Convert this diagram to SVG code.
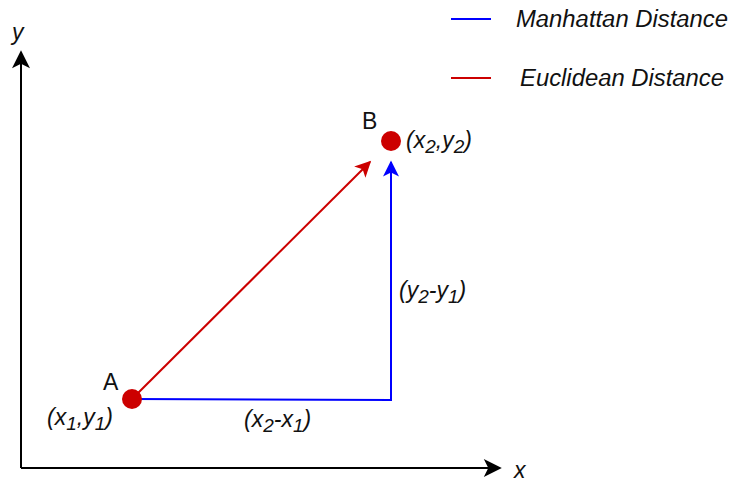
<svg xmlns="http://www.w3.org/2000/svg" width="729" height="485" viewBox="0 0 729 485">
<style>
text{font-family:"Liberation Sans",Arial,sans-serif;font-size:23px;fill:#111}
.i{font-style:italic}
.s{font-size:19px}
</style>
<defs>
<marker id="ak2" viewBox="0 0 10 10" refX="9" refY="5" markerWidth="22" markerHeight="18" markerUnits="userSpaceOnUse" orient="auto"><path d="M0,0 L10,5 L0,10 L2.5,5 Z" fill="#000"/></marker>
<marker id="ar" viewBox="0 0 10 10" refX="9" refY="5" markerWidth="18" markerHeight="16" markerUnits="userSpaceOnUse" orient="auto"><path d="M0,0 L10,5 L0,10 L2.5,5 Z" fill="#CC0000"/></marker>
<marker id="ab" viewBox="0 0 10 10" refX="9" refY="5" markerWidth="18" markerHeight="16" markerUnits="userSpaceOnUse" orient="auto"><path d="M0,0 L10,5 L0,10 L2.5,5 Z" fill="#0000FF"/></marker>
</defs>
<g id="connectors" fill="none">
<path id="y-axis" d="M21,468 V52" stroke="#000" stroke-width="2" marker-end="url(#ak2)"/>
<path id="x-axis" d="M21,468 H500" stroke="#000" stroke-width="2" marker-end="url(#ak2)"/>
<path id="euclid" d="M132,399 L370,162" stroke="#CC0000" stroke-width="2" marker-end="url(#ar)"/>
<path id="manhattan" d="M132,399 L391,400 V162" stroke="#0000FF" stroke-width="2" marker-end="url(#ab)"/>
</g>
<g id="axis-labels">
<text class="i" x="12" y="40">y</text>
<text class="i" x="514" y="478">x</text>
</g>
<g id="legend">
<line x1="451" y1="19" x2="491" y2="19" stroke="#0000FF" stroke-width="2"/>
<text class="i" x="516" y="27" font-size="22" textLength="212" lengthAdjust="spacingAndGlyphs">Manhattan Distance</text>
<line x1="451" y1="78" x2="491" y2="78" stroke="#CC0000" stroke-width="2"/>
<text class="i" x="520" y="86" font-size="22" textLength="204" lengthAdjust="spacingAndGlyphs">Euclidean Distance</text>
</g>
<g id="A">
<circle cx="132" cy="399" r="10" fill="#CC0000"/>
<text x="103" y="390" font-size="22">A</text>
<text class="i" x="47" y="425">(x<tspan class="s" dy="5">1</tspan><tspan dy="-5">,y</tspan><tspan class="s" dy="5">1</tspan><tspan dy="-5">)</tspan></text>
</g>
<g id="B">
<circle cx="391" cy="141" r="10" fill="#CC0000"/>
<text x="362" y="129" font-size="22">B</text>
<text class="i" x="406" y="148">(x<tspan class="s" dy="5">2</tspan><tspan dy="-5">,y</tspan><tspan class="s" dy="5">2</tspan><tspan dy="-5">)</tspan></text>
</g>
<g id="dx">
<text class="i" x="244" y="427">(x<tspan class="s" dy="5">2</tspan><tspan dy="-5">-x</tspan><tspan class="s" dy="5">1</tspan><tspan dy="-5">)</tspan></text>
</g>
<g id="dy">
<text class="i" x="399" y="298">(y<tspan class="s" dy="5">2</tspan><tspan dy="-5">-y</tspan><tspan class="s" dy="5">1</tspan><tspan dy="-5">)</tspan></text>
</g>
</svg>
